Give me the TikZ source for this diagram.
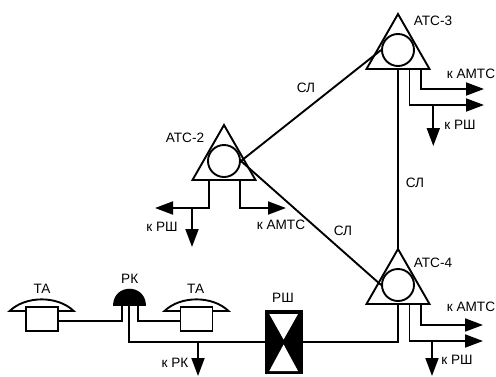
\documentclass[tikz,border=0pt]{standalone}
\usepackage{fontspec}
\setmainfont{Liberation Sans}
\usetikzlibrary{arrows.meta}
\tikzset{
  wire/.style={line width=1.9pt},
  outlet/.style={wire, -{Triangle[length=18pt,width=13pt]}},
  lbl/.style={inner sep=0pt, font=\fontsize{13.6pt}{15pt}\selectfont},
  atsring/.style={circle, draw, wire, minimum size=32pt, inner sep=0pt},
  tabox/.style={rectangle, draw, wire, fill=white, minimum width=32pt, minimum height=23.5pt, inner sep=0pt},
  rshbox/.style={rectangle, draw, wire, fill=black, minimum width=36pt, minimum height=62pt, inner sep=0pt}
}
% station: ring, triangle and its named corners
\newcommand{\ATS}[2]{
  \begin{scope}[shift={(#2)}]
    \node[atsring] (#1) at (0, 0) {};
    \coordinate (#1T) at (0, -36);
    \coordinate (#1L) at (-31.5, 19);
    \coordinate (#1R) at (31.5, 19);
    \coordinate (#1B) at (0, 19);
    \coordinate (#1P) at (11.5, 19);
    \coordinate (#1Q) at (23, 19);
    \draw[wire] (#1T) -- (#1L) -- (#1R) -- cycle;
  \end{scope}
}
% telephone: dome with a box over it
\newcommand{\TA}[2]{
  \begin{scope}[shift={(#2)}]
    \draw[wire] (-32, -8) .. controls (-16, -23.5) and (16, -23.5) .. (32, -8) -- cycle;
    \node[tabox] (#1) at (0, 0) {};
  \end{scope}
}
\begin{document}
\begin{tikzpicture}[x=1pt, y=-1pt]
  \useasboundingbox (0, 0) rectangle (496, 376);
  \ATS{A3}{398, 50}
  \ATS{A2}{224, 161}
  \ATS{A4}{398, 285}
  \TA{TA1}{41.7, 319}
  \TA{TA2}{196.5, 319}
  % coordinates
  \coordinate (A3a) at (484, 89);
  \coordinate (A3b) at (484, 105);
  \coordinate (A3c) at (433.3, 105);
  \coordinate (A3d) at (433.3, 146);
  \coordinate (A2p) at (240, 180);
  \coordinate (A2q) at (209, 180);
  \coordinate (A2a) at (286, 208);
  \coordinate (A2b) at (155, 208);
  \coordinate (A2c) at (192, 208);
  \coordinate (A2d) at (192, 247);
  \coordinate (A4a) at (483, 325);
  \coordinate (A4b) at (483, 341);
  \coordinate (A4c) at (432, 341);
  \coordinate (A4d) at (432, 376);
  \coordinate (RKa) at (122, 305);
  \coordinate (RKb) at (129, 305);
  \coordinate (RKc) at (138, 305);
  \coordinate (RKd) at (198, 342);
  \coordinate (RKe) at (198, 376);
  \coordinate (TA1a) at (57.7, 321);
  \coordinate (TA2a) at (180.5, 321);
  % distribution cabinet
  \node[rshbox] (RSH) at (283.6, 342) {};
  \fill[white] (269.3, 314) -- (298, 314) -- (283.6, 339.5) -- cycle;
  \fill[white] (269.3, 371) -- (298, 371) -- (283.6, 344.5) -- cycle;
  % subscriber concentrator
  \fill (113.3, 305.5) .. controls (113.3, 283) and (146, 283) .. (146, 305.5) -- cycle;
  % trunks
  \draw[wire] (A2.east) -- (A3.west);
  \draw[wire] (A2.east) -- (A4.west);
  \draw[wire] (A3B) -- (A4T);
  \draw[wire] (A4B) |- (RSH.east);
  \draw[wire] (RKb) |- (RSH.west);
  \draw[wire] (RKa) |- (TA1a);
  \draw[wire] (RKc) |- (TA2a);
  % outlets
  \draw[outlet] (A3Q) |- (A3a);
  \draw[outlet] (A3P) |- (A3b);
  \draw[outlet] (A3c) -- (A3d);
  \draw[outlet] (A2p) |- (A2a);
  \draw[outlet] (A2q) |- (A2b);
  \draw[outlet] (A2c) -- (A2d);
  \draw[outlet] (A4Q) |- (A4a);
  \draw[outlet] (A4P) |- (A4b);
  \draw[outlet] (A4c) -- (A4d);
  \draw[outlet] (RKd) -- (RKe);
  % labels
  \node[lbl] (L1) at (433, 21) {АТС-3};
  \node[lbl] (L2) at (185, 138) {АТС-2};
  \node[lbl] (L3) at (433, 263) {АТС-4};
  \node[lbl] (L4) at (471, 74) {к АМТС};
  \node[lbl] (L5) at (460, 125) {к РШ};
  \node[lbl] (L6) at (281, 225) {к АМТС};
  \node[lbl] (L7) at (162, 227) {к РШ};
  \node[lbl] (L8) at (471, 307) {к АМТС};
  \node[lbl] (L9) at (457, 360) {к РШ};
  \node[lbl] (L10) at (129.7, 279) {РК};
  \node[lbl] (L11) at (42, 289) {ТА};
  \node[lbl] (L12) at (195.7, 289) {ТА};
  \node[lbl] (L13) at (283, 298) {РШ};
  \node[lbl] (L14) at (175, 363) {к РК};
  \node[lbl] (L15) at (306, 88) {СЛ};
  \node[lbl] (L16) at (415, 183) {СЛ};
  \node[lbl] (L17) at (343, 231) {СЛ};
\end{tikzpicture}
\end{document}
